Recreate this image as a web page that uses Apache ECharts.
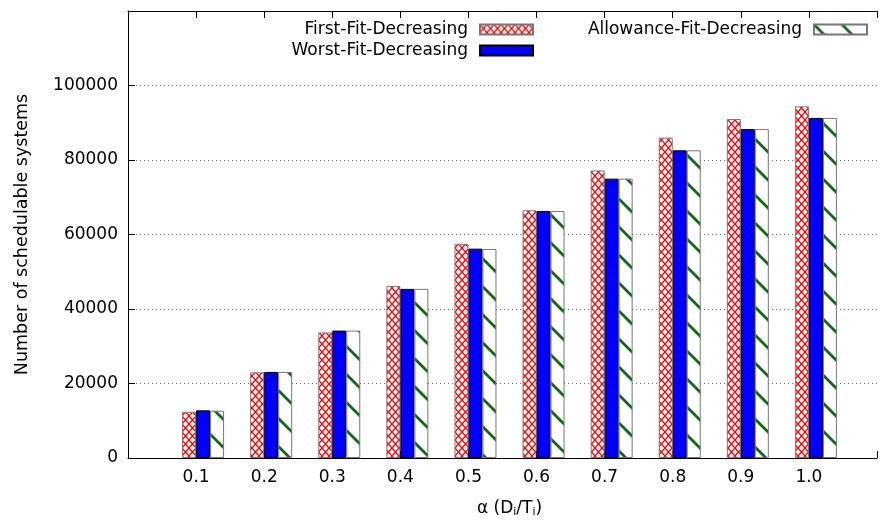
<!DOCTYPE html>
<html>
<head>
<meta charset="utf-8">
<script src="https://cdn.jsdelivr.net/npm/echarts@6/dist/echarts.min.js"></script>
<style>html,body{margin:0;padding:0;background:#fff;}#c{width:880px;height:523px;}</style>
</head>
<body>
<div id="c"></div>
<script>
var categories = ['0.1','0.2','0.3','0.4','0.5','0.6','0.7','0.8','0.9','1.0'];
var firstFit = [12400, 23000, 33700, 46200, 57500, 66500, 77200, 86000, 91000, 94400];
var worstFit = [12800, 23100, 34200, 45400, 56200, 66300, 75000, 82600, 88300, 91300];
var allowanceFit = [12700, 23100, 34200, 45400, 56100, 66300, 75000, 82600, 88300, 91300];
var yTicks = [0, 20000, 40000, 60000, 80000, 100000];

function makePattern(kind) {
  var cv = document.createElement('canvas');
  var ctx;
  if (kind === 'cross') {
    cv.width = 7; cv.height = 8;
    ctx = cv.getContext('2d');
    ctx.fillStyle = '#fff'; ctx.fillRect(0, 0, 7, 8);
    ctx.strokeStyle = '#ff0000'; ctx.lineWidth = 1.4;
    ctx.beginPath();
    ctx.moveTo(0, 0); ctx.lineTo(7, 8);
    ctx.moveTo(7, 0); ctx.lineTo(0, 8);
    ctx.stroke();
  } else {
    var s = 28;
    cv.width = s; cv.height = s;
    ctx = cv.getContext('2d');
    ctx.fillStyle = '#fff'; ctx.fillRect(0, 0, s, s);
    ctx.strokeStyle = '#0b6b0b'; ctx.lineWidth = 2.8;
    ctx.beginPath();
    [-s, 0, s].forEach(function (o) {
      ctx.moveTo(o - 2, -2); ctx.lineTo(o + s + 2, s + 2);
    });
    ctx.stroke();
  }
  return { image: cv, repeat: 'repeat' };
}

var axisCats = [''].concat(categories).concat(['']);
function pad(arr) { return [null].concat(arr).concat([null]); }

var font = 'DejaVu Sans';
var fs = 17;
var chart = echarts.init(document.getElementById('c'));
function legendAt(name, right, top) {
  return {
    data: [{ name: name, icon: 'rect' }], right: right, top: top, align: 'right', orient: 'vertical',
    itemWidth: 53, itemHeight: 10, selectedMode: false, padding: 0,
    textStyle: { fontFamily: font, fontSize: fs, color: '#000', padding: [0, 7, 0, 0] }
  };
}
chart.setOption({
  animation: false,
  backgroundColor: '#fff',
  grid: { left: 128, right: -11, top: 11, bottom: 64, containLabel: false },
  legend: [
    legendAt('First-Fit-Decreasing', 346, 21),
    legendAt('Worst-Fit-Decreasing', 346, 42),
    legendAt('Allowance-Fit-Decreasing', 12, 21)
  ],
  xAxis: [{
    type: 'category', data: axisCats, boundaryGap: false, position: 'bottom',
    axisLine: { lineStyle: { color: '#000', width: 1 } },
    axisTick: { inside: true, length: 7, lineStyle: { color: '#000' } },
    axisLabel: { fontFamily: font, fontSize: fs, color: '#000', margin: 11 },
    name: 'α (D{s|i}/T{s|i})', nameLocation: 'middle', nameGap: 41,
    nameTextStyle: { fontFamily: font, fontSize: fs, color: '#000', padding: [0, 0, 0, 14],
      rich: { s: { fontFamily: font, fontSize: 11, color: '#000', verticalAlign: 'bottom', padding: [8, 0, 0, 0] } } },
    splitLine: { show: false }
  }, {
    type: 'category', data: axisCats, boundaryGap: false, position: 'top',
    axisLine: { lineStyle: { color: '#000', width: 1 } },
    axisTick: { inside: true, length: 7, lineStyle: { color: '#000' } },
    axisLabel: { show: false },
    splitLine: { show: false }
  }],
  yAxis: {
    type: 'value', min: 0, max: 120000, interval: 20000,
    axisLine: { show: true, lineStyle: { color: '#000', width: 1 } },
    axisTick: { show: true, inside: true, length: 7, lineStyle: { color: '#000' } },
    axisLabel: { fontFamily: font, fontSize: fs, color: '#000', margin: 10,
      formatter: function (v) { return yTicks.indexOf(v) >= 0 ? String(v) : ''; } },
    splitLine: { show: true, showMinLine: false, showMaxLine: false,
      lineStyle: { color: '#666', type: [1, 3], width: 1 } },
    name: 'Number of schedulable systems', nameLocation: 'middle', nameGap: 97,
    nameTextStyle: { fontFamily: font, fontSize: 17.5, color: '#000' }
  },
  series: [
    { name: 'spacer', type: 'bar', data: pad(categories.map(function () { return null; })), barWidth: 14, barGap: '0%', silent: true },
    { name: 'First-Fit-Decreasing', type: 'bar', data: pad(firstFit), barWidth: 14, barGap: '0%',
      itemStyle: { color: makePattern('cross'), borderColor: '#777', borderWidth: 1 } },
    { name: 'Worst-Fit-Decreasing', type: 'bar', data: pad(worstFit), barWidth: 14, barGap: '0%',
      itemStyle: { color: '#0000ff', borderColor: '#000', borderWidth: 1 } },
    { name: 'Allowance-Fit-Decreasing', type: 'bar', data: pad(allowanceFit), barWidth: 14, barGap: '0%',
      itemStyle: { color: makePattern('diag'), borderColor: '#777', borderWidth: 1 } }
  ]
});
</script>
</body>
</html>
